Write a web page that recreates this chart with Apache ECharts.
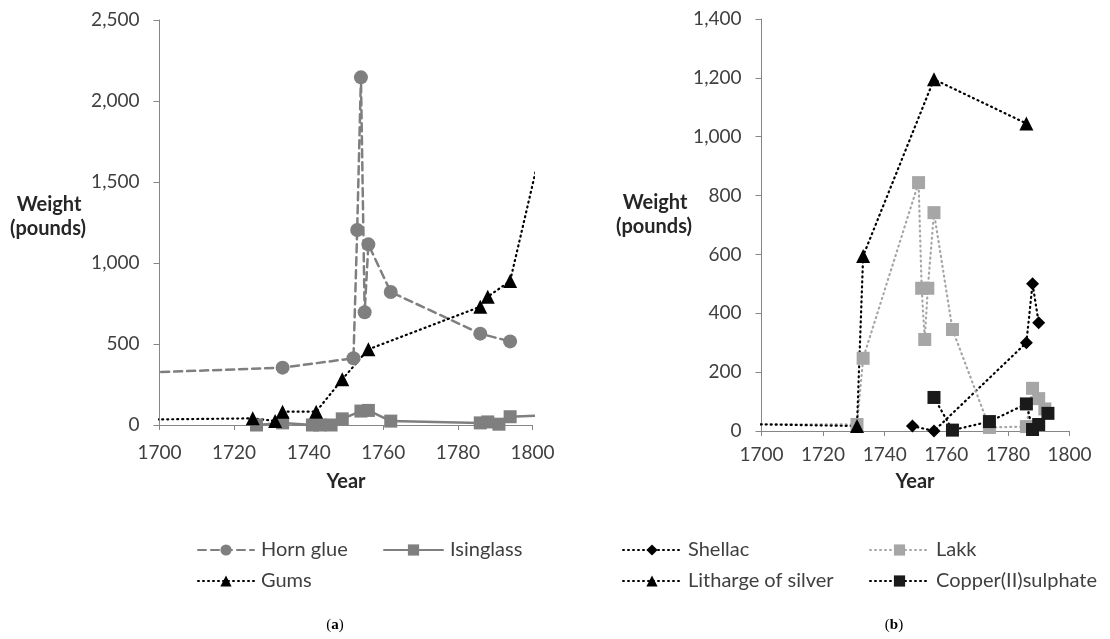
<!DOCTYPE html>
<html>
<head>
<meta charset="utf-8">
<script src="https://cdn.jsdelivr.net/npm/echarts@6/dist/echarts.min.js"></script>
<style>html,body{margin:0;padding:0;background:#fff;}#c{width:1110px;height:639px;}</style>
</head>
<body>
<div id="c"></div>
<script>
// ---- Data (a) ----
const xTicksA = [1700, 1720, 1740, 1760, 1780, 1800];
const hornYears = [1690, 1733, 1752, 1753, 1754, 1755, 1756, 1762, 1786, 1794];
const hornValues = [318, 354, 412, 1204, 2146, 696, 1115, 821, 564, 516];
const isinYears = [1726, 1733, 1741, 1743, 1746, 1749, 1754, 1756, 1762, 1786, 1788, 1791, 1794, 1810];
const isinValues = [0, 13, 0, 0, 0, 38, 86, 90, 24, 13, 19, 5, 51, 65];
const gumsYears = [1690, 1725, 1731, 1733, 1742, 1749, 1756, 1786, 1788, 1794, 1810];
const gumsValues = [32, 41, 25, 82, 82, 282, 467, 730, 792, 889, 2470];
// ---- Data (b) ----
const shellacYears = [1749, 1756, 1786, 1788, 1790];
const shellacValues = [17, 0, 300, 500, 368];
const lakkYears = [1690, 1731, 1733, 1751, 1752, 1753, 1754, 1756, 1762, 1774, 1786, 1788, 1790, 1792];
const lakkValues = [24, 22, 247, 844, 485, 311, 485, 742, 345, 12, 15, 145, 110, 75];
const lithYears = [1690, 1731, 1733, 1756, 1786];
const lithValues = [24, 17, 595, 1195, 1045];
const copperYears = [1756, 1762, 1774, 1786, 1788, 1790, 1793];
const copperValues = [114, 3, 32, 92, 5, 22, 60];

const pair = (xs, ys) => xs.map((x, i) => [x, ys[i]]);
const FONT = 'Lato, "Open Sans", sans-serif';
const LABEL = '#404040';
const AXIS = '#868686';
const fmt = v => v.toLocaleString('en-US');

function xAxis(gi, margin) {
  return {
    type: 'value', gridIndex: gi, min: 1700, max: 1800, interval: 20,
    axisLine: { show: true, onZero: false, lineStyle: { color: AXIS, width: 1 } },
    axisTick: { show: true, length: 5, lineStyle: { color: AXIS } },
    splitLine: { show: false },
    axisLabel: { color: LABEL, fontFamily: FONT, fontSize: 19, margin: margin, formatter: v => String(v) }
  };
}
function yAxis(gi, max, interval) {
  return {
    type: 'value', gridIndex: gi, min: 0, max: max, interval: interval,
    axisLine: { show: true, lineStyle: { color: AXIS, width: 1 } },
    axisTick: { show: true, length: 6, lineStyle: { color: AXIS } },
    splitLine: { show: false },
    axisLabel: { color: LABEL, fontFamily: FONT, fontSize: 19, margin: 20, formatter: fmt }
  };
}
function series(name, gi, data, color, lineType, width, symbol, size, symColor) {
  return {
    name: name, type: 'line', xAxisIndex: gi, yAxisIndex: gi, data: data,
    clip: true, animation: false,
    symbol: symbol, symbolSize: size, showSymbol: true,
    itemStyle: { color: symColor || color, borderWidth: 0 },
    lineStyle: { color: color, width: width, type: lineType, cap: 'round' }
  };
}
function legend(name, left, top, w) {
  return {
    data: [name], left: left, top: top, itemWidth: w, itemHeight: 14,
    padding: 0, itemGap: 0,
    textStyle: { color: LABEL, fontFamily: FONT, fontSize: 20, padding: [0, 0, 0, 2] }
  };
}
function text(x, y, str, opts) {
  return {
    type: 'text', x: x, y: y,
    style: Object.assign({ text: str, fill: '#262626', font: 'bold 20px ' + FONT, align: 'center', verticalAlign: 'middle' }, opts || {})
  };
}

const GRAY = '#7f7f7f';
const LGRAY = '#a6a6a6';
const BLACK = '#000000';
const DOT = [1, 4];

const chart = echarts.init(document.getElementById('c'), null, { renderer: 'canvas' });
chart.setOption({
  backgroundColor: '#ffffff',
  animation: false,
  grid: [
    { left: 159.5, top: 20, width: 373, height: 405 },
    { left: 761.5, top: 19, width: 308, height: 412 }
  ],
  xAxis: [xAxis(0, 18), xAxis(1, 14)],
  yAxis: [yAxis(0, 2500, 500), yAxis(1, 1400, 200)],
  legend: [
    legend('Horn glue', 197, 540, 56),
    legend('Isinglass', 383, 540, 59),
    legend('Gums', 197, 571, 56),
    legend('Shellac', 622, 540, 58),
    legend('Lakk', 869, 540, 59),
    legend('Litharge of silver', 622, 571, 58),
    legend('Copper(II)sulphate', 869, 571, 59)
  ],
  series: [
    series('Horn glue', 0, pair(hornYears, hornValues), GRAY, [8, 5], 2.5, 'circle', 14),
    series('Isinglass', 0, pair(isinYears, isinValues), GRAY, 'solid', 2.5, 'rect', 13),
    series('Gums', 0, pair(gumsYears, gumsValues), BLACK, DOT, 2.2, 'triangle', 14),
    series('Shellac', 1, pair(shellacYears, shellacValues), BLACK, DOT, 2.2, 'diamond', 13),
    series('Lakk', 1, pair(lakkYears, lakkValues), LGRAY, DOT, 2.2, 'rect', 13),
    series('Litharge of silver', 1, pair(lithYears, lithValues), BLACK, DOT, 2.2, 'triangle', 14),
    series('Copper(II)sulphate', 1, pair(copperYears, copperValues), BLACK, DOT, 2.2, 'rect', 13, '#1a1a1a')
  ],
  graphic: [
    text(49, 205, 'Weight'),
    text(48, 229, '(pounds)'),
    text(346, 482, 'Year'),
    text(655, 203, 'Weight'),
    text(654, 227, '(pounds)'),
    text(915, 482, 'Year'),
    {
      type: 'text', x: 335, y: 625,
      style: {
        text: '({b|a})', align: 'center', verticalAlign: 'middle',
        font: '15px "Liberation Serif", serif', fill: '#000',
        rich: { b: { font: 'bold 15px "Liberation Serif", serif', fill: '#000' } }
      }
    },
    {
      type: 'text', x: 894, y: 625,
      style: {
        text: '({b|b})', align: 'center', verticalAlign: 'middle',
        font: '15px "Liberation Serif", serif', fill: '#000',
        rich: { b: { font: 'bold 15px "Liberation Serif", serif', fill: '#000' } }
      }
    }
  ]
});
</script>
</body>
</html>
